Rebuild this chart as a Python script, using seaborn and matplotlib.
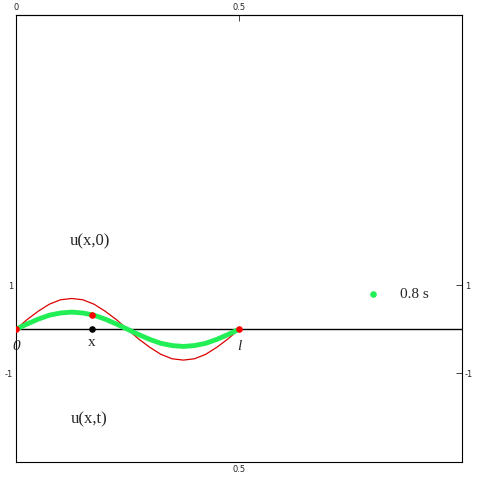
import matplotlib
matplotlib.use("Agg")
import matplotlib.pyplot as plt
import seaborn as sns
import pandas as pd

sns.set_style("white")
plt.rcParams['font.family'] = ['Liberation Serif', 'DejaVu Serif']

# string positions (x) and displacements
xs = [0, 0.025, 0.05, 0.075, 0.1, 0.125, 0.15, 0.175, 0.2, 0.225, 0.25,
      0.275, 0.3, 0.325, 0.35, 0.375, 0.4, 0.425, 0.45, 0.475, 0.5]
u0 = [0, 0.22, 0.41, 0.57, 0.67, 0.70, 0.67, 0.57, 0.41, 0.22, 0,
      -0.22, -0.41, -0.57, -0.67, -0.70, -0.67, -0.57, -0.41, -0.22, 0]
ut = [0, 0.12, 0.23, 0.32, 0.37, 0.39, 0.37, 0.32, 0.23, 0.12, 0,
      -0.12, -0.23, -0.32, -0.37, -0.39, -0.37, -0.32, -0.23, -0.12, 0]
red_x = [0, 0.17, 0.5]
red_y = [0, 0.33, 0]
df = pd.DataFrame({"x": xs, "u0": u0, "ut": ut})

fig, ax = plt.subplots(figsize=(4.82, 4.82), dpi=100)
fig.subplots_adjust(left=0.033, right=0.959, bottom=0.041, top=0.969)

ax.axhline(0, color="black", lw=1)
sns.lineplot(data=df, x="x", y="u0", ax=ax, color="#dd0000", lw=0.9)
sns.lineplot(data=df, x="x", y="ut", ax=ax, color="#22ee55", lw=3.5)
ax.scatter(red_x, red_y, color="red", s=14, zorder=5)
ax.scatter([0.17], [0], color="black", s=14, zorder=5)
ax.scatter([0.8], [0.8], color="#22ee55", s=14, zorder=5)

ax.text(0, -0.25, "0", style="italic", ha="center", va="top", fontsize=11)
ax.text(0.17, -0.15, "x", ha="center", va="top", fontsize=11)
ax.text(0.5, -0.25, "l", style="italic", ha="center", va="top", fontsize=11)
ax.text(0.165, 2.0, "u(x,0)", ha="center", va="center", fontsize=12)
ax.text(0.165, -2.05, "u(x,t)", ha="center", va="center", fontsize=12)
ax.text(0.86, 0.8, "0.8 s", ha="left", va="center", fontsize=11)

ax.set_xlim(0, 1)
ax.set_ylim(-3.02, 7.14)
ax.set_xlabel("")
ax.set_ylabel("")
ax.set_xticks([0.5])
ax.set_xticklabels(["0.5"], fontsize=6, family="DejaVu Sans")
ax.set_yticks([-1, 1])
ax.set_yticklabels(["-1", "1"], fontsize=6, family="DejaVu Sans")
ax.tick_params(direction="in", length=4, width=0.6, labelright=True, right=True, pad=2)
ax2 = ax.secondary_xaxis("top")
ax2.set_xticks([0, 0.5])
ax2.set_xticklabels(["0", "0.5"], fontsize=6, family="DejaVu Sans")
ax2.tick_params(direction="in", length=4, width=0.6, pad=2)
for s in ax.spines.values():
    s.set_color("black")
    s.set_linewidth(0.8)

fig.savefig("out.png", dpi=100)
